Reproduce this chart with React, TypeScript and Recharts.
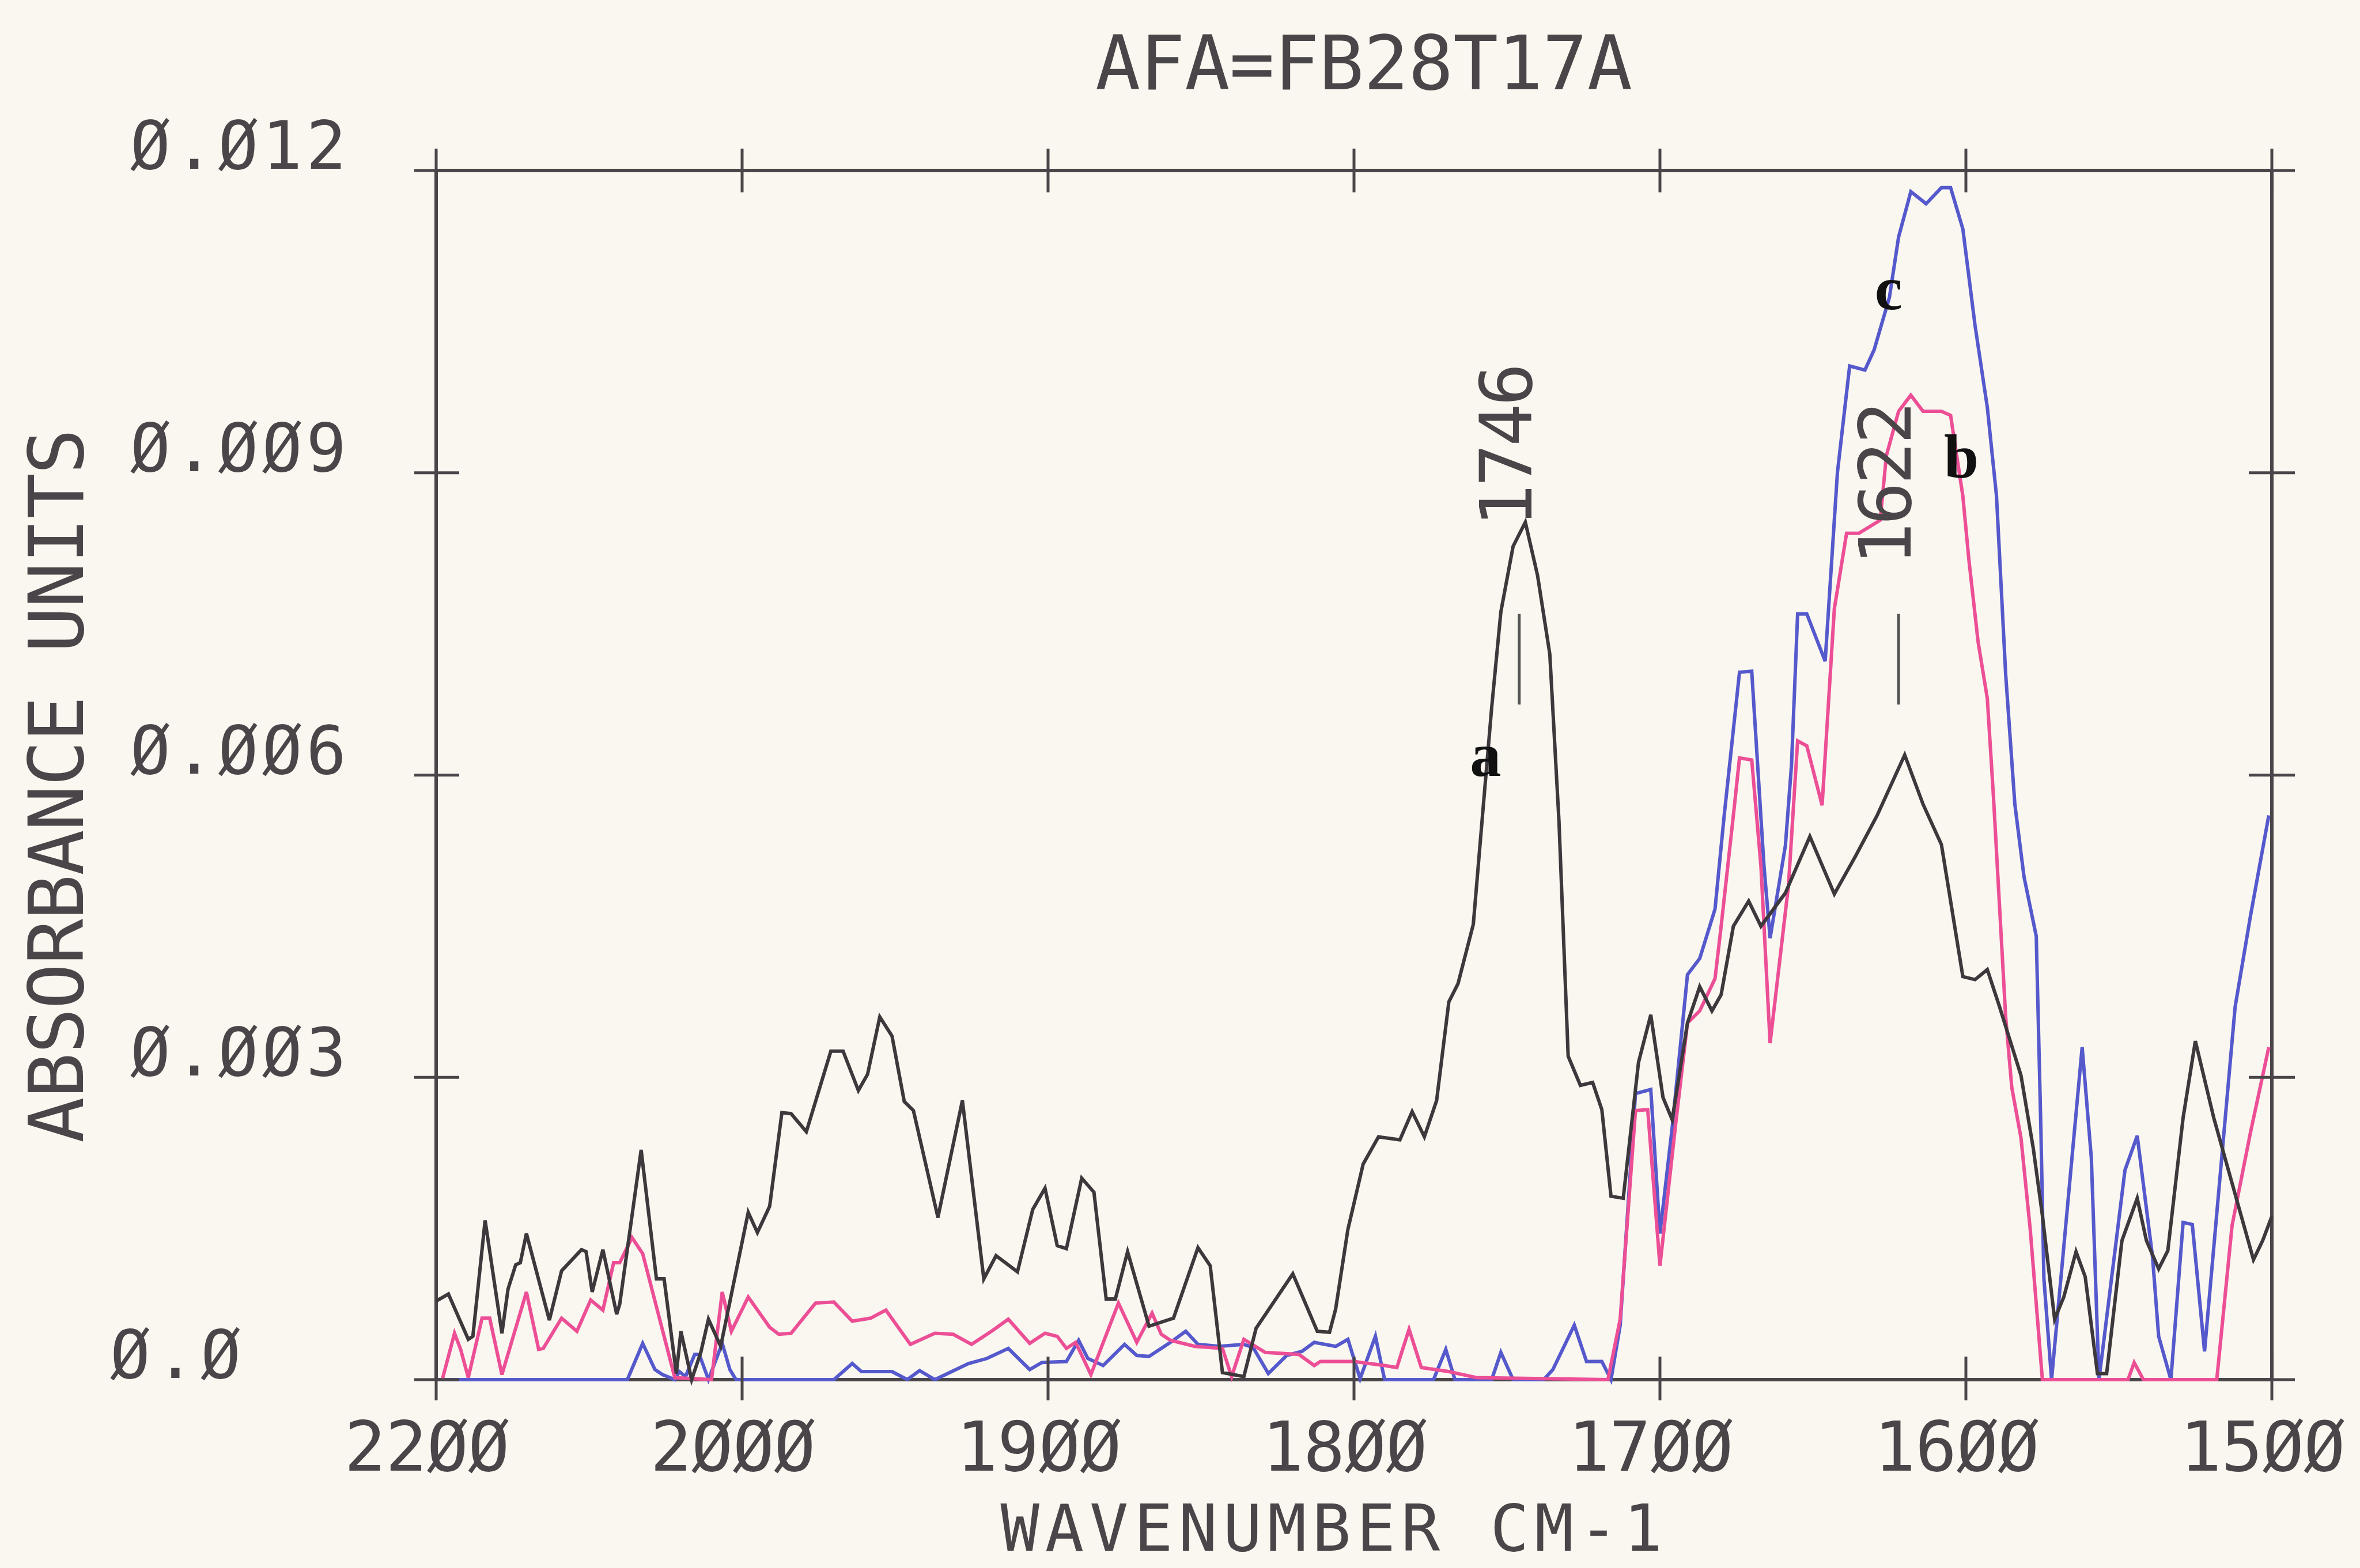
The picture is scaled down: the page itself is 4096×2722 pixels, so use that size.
import { LineChart, Line, XAxis, YAxis, ReferenceLine, ReferenceDot } from "recharts";

const W = 4096;
const H = 2722;
const M = { top: 296, right: 153, bottom: 327, left: 757 };
const X_AXIS_H = 220;
const Y_AXIS_W = 400;
const PLOT_W = W - M.left - M.right;
const PLOT_H = H - M.top - M.bottom;

const INK = "#4a4548";
const BLACK = "#3d383c";
const PINK = "#ec4f95";
const BLUE = "#5559cc";
const PLOTTER = "DejaVu Sans Mono, monospace";

// axis ticks (the plotter prints zeros slashed)
const xTickWave = [2200, 2000, 1900, 1800, 1700, 1600, 1500];
const xTickLabels = ["22ØØ", "2ØØØ", "19ØØ", "18ØØ", "17ØØ", "16ØØ", "15ØØ"];
const yTickValues = [0, 0.003, 0.006, 0.009, 0.012];
const yTickLabels = ["Ø.Ø", "Ø.ØØ3", "Ø.ØØ6", "Ø.ØØ9", "Ø.Ø12"];

// curve a (black)
const aWave = [2200, 2192, 2179, 2176, 2168, 2157, 2153, 2148, 2145, 2141, 2126, 2118, 2105, 2102, 2098, 2091, 2082, 2080, 2066, 2056, 2051, 2043, 2040, 2033, 2027, 2022, 2014, 1998, 1995, 1991, 1987, 1984, 1979, 1971, 1967, 1962, 1959, 1955, 1951, 1947, 1944, 1936, 1928, 1921, 1917, 1910, 1905, 1901, 1897, 1894, 1889, 1885, 1881, 1878, 1874, 1867, 1859, 1851, 1847, 1843, 1836, 1832, 1820, 1812, 1808, 1806, 1802, 1797, 1792, 1785, 1781, 1777, 1773, 1769, 1766, 1761, 1758, 1755, 1752, 1748, 1744, 1740, 1736, 1733, 1730, 1726, 1722, 1719, 1716, 1712, 1707, 1703, 1699, 1696, 1691, 1687, 1683, 1680, 1676, 1671, 1667, 1659, 1651, 1643, 1636, 1629, 1620, 1614, 1608, 1601, 1597, 1593, 1589, 1582, 1578, 1575, 1571, 1568, 1564, 1561, 1557, 1554, 1549, 1544, 1541, 1537, 1534, 1529, 1525, 1519, 1506, 1503, 1500];
const aAbs = [0.00078, 0.00085, 0.0004, 0.00043, 0.00158, 0.00046, 0.0009, 0.00114, 0.00116, 0.00145, 0.00059, 0.00108, 0.00129, 0.00127, 0.00087, 0.00129, 0.00065, 0.00075, 0.00228, 0.001, 0.001, 0.00006, 0.00048, 0.0, 0.00027, 0.0006, 0.00033, 0.00166, 0.00146, 0.00172, 0.00265, 0.00264, 0.00246, 0.00326, 0.00326, 0.00287, 0.00303, 0.0036, 0.00341, 0.00276, 0.00267, 0.00161, 0.00277, 0.001, 0.00123, 0.00107, 0.00169, 0.0019, 0.00133, 0.0013, 0.002, 0.00186, 0.0008, 0.0008, 0.00127, 0.00053, 0.00061, 0.00131, 0.00113, 0.00007, 0.00003, 0.00051, 0.00105, 0.00048, 0.00047, 0.0007, 0.00149, 0.00214, 0.00241, 0.00238, 0.00266, 0.00241, 0.00277, 0.00375, 0.00393, 0.00452, 0.0056, 0.00667, 0.00762, 0.00827, 0.00851, 0.00798, 0.0072, 0.00554, 0.00321, 0.00292, 0.00295, 0.00268, 0.00182, 0.0018, 0.00315, 0.00362, 0.0028, 0.00258, 0.00354, 0.0039, 0.00366, 0.00382, 0.0045, 0.00475, 0.0045, 0.00483, 0.00539, 0.00482, 0.0052, 0.0056, 0.0062, 0.00571, 0.00531, 0.004, 0.00397, 0.00407, 0.0037, 0.00302, 0.0023, 0.00163, 0.0006, 0.00082, 0.00127, 0.00102, 0.00006, 0.00006, 0.00138, 0.0018, 0.00138, 0.0011, 0.00128, 0.0026, 0.00336, 0.0026, 0.00119, 0.00138, 0.00162];

// curve b (pink)
const bWave = [2196, 2188, 2184, 2179, 2170, 2165, 2157, 2141, 2133, 2130, 2118, 2108, 2099, 2091, 2084, 2080, 2072, 2065, 2044, 2020, 2013, 2007, 1998, 1991, 1988, 1984, 1976, 1970, 1964, 1958, 1953, 1945, 1937, 1931, 1925, 1918, 1913, 1906, 1901, 1897, 1894, 1891, 1886, 1877, 1871, 1866, 1863, 1860, 1852, 1843, 1840, 1836, 1829, 1818, 1813, 1811, 1800, 1790, 1786, 1782, 1778, 1769, 1760, 1717, 1713, 1708, 1704, 1700, 1695, 1691, 1687, 1682, 1680, 1676, 1674, 1670, 1667, 1664, 1658, 1655, 1652, 1647, 1643, 1639, 1635, 1628, 1626, 1622, 1618, 1614, 1608, 1605, 1601, 1599, 1596, 1593, 1591, 1587, 1585, 1582, 1579, 1575, 1547, 1545, 1542, 1518, 1513, 1507, 1501];
const bAbs = [0.0, 0.00046, 0.0003, 0.00002, 0.00061, 0.00061, 0.00005, 0.00087, 0.0003, 0.00031, 0.00061, 0.00048, 0.00079, 0.00069, 0.00116, 0.00116, 0.00141, 0.00125, 0.00002, 0.0, 0.00087, 0.00048, 0.00082, 0.00052, 0.00045, 0.00046, 0.00076, 0.00077, 0.00058, 0.00061, 0.00069, 0.00035, 0.00046, 0.00045, 0.00035, 0.00049, 0.0006, 0.00036, 0.00046, 0.00043, 0.00031, 0.00037, 0.00005, 0.00076, 0.00037, 0.00066, 0.00045, 0.00039, 0.00033, 0.00031, 0.00003, 0.0004, 0.00027, 0.00025, 0.00014, 0.00018, 0.00018, 0.00014, 0.00012, 0.0005, 0.00012, 0.00008, 0.00002, 0.0, 0.0006, 0.00267, 0.00268, 0.00113, 0.0025, 0.00354, 0.00366, 0.00398, 0.0045, 0.0056, 0.00617, 0.00615, 0.0051, 0.00334, 0.0049, 0.00634, 0.00629, 0.0057, 0.00765, 0.0084, 0.0084, 0.00853, 0.00917, 0.00961, 0.00977, 0.00961, 0.00961, 0.00957, 0.00877, 0.00813, 0.00732, 0.00676, 0.00579, 0.0036, 0.0029, 0.0024, 0.0015, 0.0, 0.0, 0.00017, 0.0, 0.0, 0.00153, 0.00245, 0.0033];

// curve c (blue)
const cWave = [2200, 2075, 2065, 2057, 2052, 2044, 2041, 2037, 2031, 2028, 2022, 2013, 2008, 2004, 1970, 1964, 1961, 1951, 1946, 1942, 1937, 1926, 1920, 1913, 1906, 1902, 1894, 1890, 1887, 1882, 1875, 1871, 1867, 1860, 1855, 1851, 1844, 1836, 1833, 1828, 1822, 1817, 1813, 1806, 1802, 1798, 1793, 1790, 1774, 1770, 1767, 1755, 1752, 1748, 1738, 1735, 1728, 1724, 1719, 1716, 1713, 1708, 1703, 1700, 1696, 1691, 1687, 1682, 1679, 1674, 1670, 1666, 1664, 1659, 1657, 1655, 1652, 1646, 1642, 1638, 1633, 1630, 1625, 1622, 1618, 1613, 1608, 1605, 1601, 1597, 1593, 1590, 1587, 1584, 1581, 1577, 1575.5, 1574.5, 1572, 1562, 1559, 1556.5, 1548, 1544, 1539, 1537, 1533, 1529, 1526, 1522, 1512, 1507, 1501];
const cAbs = [0, 0, 0.00036, 0.0001, 0.00005, 0, 0.00008, 0.00003, 0.00025, 0.00025, 0, 0.00036, 0.0001, 0, 0, 0.00016, 0.00008, 0.00008, 0, 0.00009, 0, 0.00016, 0.00021, 0.00031, 0.0001, 0.00017, 0.00018, 0.00039, 0.00021, 0.00014, 0.00035, 0.00024, 0.00023, 0.00037, 0.00048, 0.00035, 0.00033, 0.00035, 0.00032, 0.00006, 0.00024, 0.00028, 0.00037, 0.00033, 0.0004, 0.00001, 0.00043, 0, 0, 0.0003, 0, 0, 0.00027, 0, 0, 0.0001, 0.00054, 0.00018, 0.00018, 0, 0.00054, 0.00284, 0.00288, 0.00145, 0.0025, 0.00402, 0.00418, 0.00467, 0.0056, 0.00702, 0.00703, 0.0051, 0.00438, 0.0053, 0.0061, 0.0076, 0.0076, 0.00713, 0.009, 0.01006, 0.01002, 0.01022, 0.01074, 0.01134, 0.01179, 0.01167, 0.01183, 0.01183, 0.01142, 0.01046, 0.00965, 0.00877, 0.007, 0.00571, 0.00499, 0.0044, 0.0025, 0.001, 0, 0.0033, 0.0022, 0, 0.00208, 0.00242, 0.00122, 0.00043, 0, 0.00156, 0.00154, 0.00028, 0.0037, 0.0046, 0.0056];

// peak annotations
const peakWave = [1746, 1622];
const peakLabelStart = [0.00846, 0.00808];
const curveLetters = ["a", "b", "c"];
const letterWave = [1757, 1601.5, 1625.3];
const letterAbs = [0.00599, 0.00895, 0.01062];

// the x axis is compressed 2x above 2000 cm-1
const toPos = (wn: number) => (wn >= 2000 ? (2200 - wn) / 200 : 1 + (2000 - wn) / 100);

const build = (wave: number[], abs: number[]) => wave.map((w, i) => ({ x: toPos(w), y: abs[i] }));
const seriesA = build(aWave, aAbs);
const seriesB = build(bWave, bAbs);
const seriesC = build(cWave, cAbs);

const renderBottomTick = (props: any) => {
  const { x, y, payload } = props;
  const i = xTickWave.findIndex((w) => Math.abs(toPos(w) - payload.value) < 1e-6);
  return (
    <g>
      <line x1={x} x2={x} y1={y - 40} y2={y + 36} stroke={INK} strokeWidth={5} />
      <line x1={x} x2={x} y1={y - PLOT_H - 38} y2={y - PLOT_H + 38} stroke={INK} strokeWidth={5} />
      <text x={x - 16} y={y + 158} textAnchor="middle" fontFamily={PLOTTER} fontSize={120} fill={INK} textLength={287} lengthAdjust="spacing">
        {xTickLabels[i]}
      </text>
    </g>
  );
};

const renderLeftTick = (props: any) => {
  const { x, y, payload } = props;
  const i = yTickValues.findIndex((v) => Math.abs(v - payload.value) < 1e-9);
  const short = i === 0;
  return (
    <g>
      <line x1={x - 38} x2={x + 40} y1={y} y2={y} stroke={INK} strokeWidth={5} />
      <line x1={x + PLOT_W - 40} x2={x + PLOT_W + 40} y1={y} y2={y} stroke={INK} strokeWidth={5} />
      <text x={short ? 191 : 226} y={y - 3} fontFamily={PLOTTER} fontSize={116} fill={INK} textLength={short ? 227 : 375} lengthAdjust="spacing">
        {yTickLabels[i]}
      </text>
    </g>
  );
};

const peakLabel = (text: string) => (p: any) => (
  <text
    x={p.cx + 21}
    y={p.cy}
    transform={`rotate(-90 ${p.cx + 21} ${p.cy})`}
    fontFamily={PLOTTER}
    fontSize={124}
    fill={INK}
    textLength={285}
    lengthAdjust="spacing"
  >
    {text}
  </text>
);

const letterLabel = (text: string) => (p: any) => (
  <text x={p.cx} y={p.cy} textAnchor="middle" fontFamily="Liberation Serif, serif" fontWeight="bold" fontSize={108} fill="#111">
    {text}
  </text>
);

export default function App() {
  return (
    <div style={{ position: "absolute", left: 0, top: 0, width: W, height: H, background: "#f9f7f0", overflow: "hidden" }}>
      <LineChart
        width={W}
        height={H}
        margin={{ top: M.top, right: M.right, bottom: M.bottom - X_AXIS_H, left: M.left - Y_AXIS_W }}
      >
        <XAxis
          type="number"
          dataKey="x"
          domain={[0, 6]}
          ticks={xTickWave.map(toPos)}
          interval={0}
          height={X_AXIS_H}
          tickSize={0}
          tickMargin={0}
          axisLine={false}
          tickLine={false}
          tick={renderBottomTick}
        />
        <YAxis
          type="number"
          domain={[0, 0.012]}
          ticks={yTickValues}
          interval={0}
          width={Y_AXIS_W}
          tickSize={0}
          tickMargin={0}
          axisLine={false}
          tickLine={false}
          tick={renderLeftTick}
        />
        <ReferenceLine y={0} stroke={INK} strokeWidth={6} />
        <ReferenceLine y={0.012} stroke={INK} strokeWidth={6} />
        <ReferenceLine x={0} stroke={INK} strokeWidth={6} />
        <ReferenceLine x={6} stroke={INK} strokeWidth={6} />
        {peakWave.map((w) => (
          <ReferenceLine
            key={w}
            segment={[
              { x: toPos(w), y: 0.0067 },
              { x: toPos(w), y: 0.0076 },
            ]}
            stroke="#555"
            strokeWidth={5}
          />
        ))}
        <Line data={seriesC} dataKey="y" type="linear" stroke={BLUE} strokeWidth={6} dot={false} isAnimationActive={false} />
        <Line data={seriesB} dataKey="y" type="linear" stroke={PINK} strokeWidth={6} dot={false} isAnimationActive={false} />
        <Line data={seriesA} dataKey="y" type="linear" stroke={BLACK} strokeWidth={6} dot={false} isAnimationActive={false} />
        {peakWave.map((w, i) => (
          <ReferenceDot key={"p" + w} x={toPos(w)} y={peakLabelStart[i]} r={0} shape={peakLabel(String(w))} />
        ))}
        {curveLetters.map((t, i) => (
          <ReferenceDot key={t} x={toPos(letterWave[i])} y={letterAbs[i]} r={0} shape={letterLabel(t)} />
        ))}
      </LineChart>
      <svg width={W} height={H} style={{ position: "absolute", left: 0, top: 0, pointerEvents: "none" }}>
        <text x={2367} y={155} textAnchor="middle" fontFamily={PLOTTER} fontSize={130} fill={INK} textLength={932} lengthAdjust="spacing">
          AFA=FB28T17A
        </text>
        <text x={2311} y={2692} textAnchor="middle" fontFamily={PLOTTER} fontSize={112} fill={INK} textLength={1149} lengthAdjust="spacing">
          WAVENUMBER CM-1
        </text>
        <text
          x={144}
          y={1364}
          transform="rotate(-90 144 1364)"
          textAnchor="middle"
          fontFamily={PLOTTER}
          fontSize={132}
          fill={INK}
          textLength={1240}
          lengthAdjust="spacing"
        >
          ABSORBANCE UNITS
        </text>
      </svg>
    </div>
  );
}
